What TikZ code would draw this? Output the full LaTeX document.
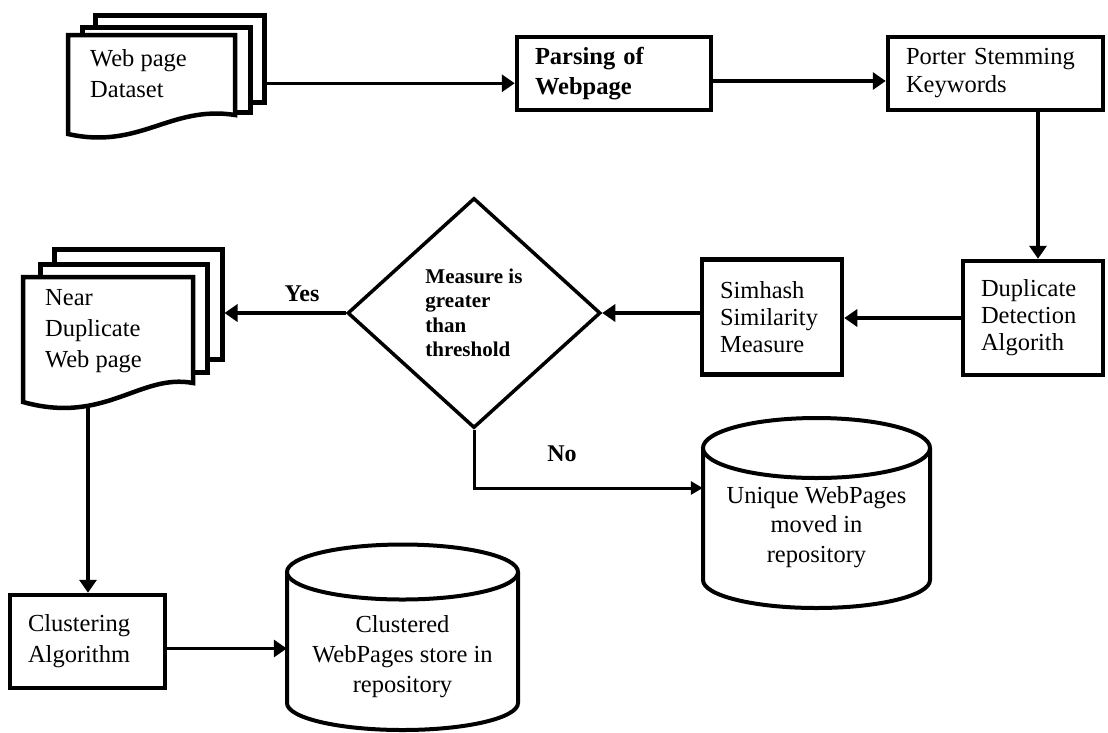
\documentclass[tikz,border=0pt]{standalone}
\usepackage{fontspec}
\setmainfont{Liberation Serif}
\usetikzlibrary{arrows.meta,shapes.geometric}
\begin{document}
\begin{tikzpicture}[x=1pt,y=-1pt,
  every node/.style={font=\fontsize{24.5}{29}\selectfont},
  box/.style={draw, line width=4.5pt, fill=white, align=left, inner xsep=18pt, inner ysep=0pt},
  docpage/.style={draw, line width=4.5pt, fill=white, line join=miter},
  cyl/.style={draw, line width=4pt, fill=white},
  conn/.style={line width=3.5pt, -{Triangle[length=13pt,width=17pt]}},
  lbl/.style={font=\bfseries\fontsize{24}{29}\selectfont, inner sep=0pt},
  plain/.style={inner sep=0pt, align=left}]
\useasboundingbox[fill=white] (0,0) rectangle (1108,732);

% Web page dataset (stack of documents)
\node[docpage, minimum width=169pt, minimum height=87pt, inner sep=0pt, anchor=north west] (dsBack) at (93,13) {};
\node[docpage, minimum width=168pt, minimum height=85pt, inner sep=0pt, anchor=north west] (dsMid) at (80,25) {};
\draw[docpage] (68,35) -- (235,35) -- (235,115) .. controls (170,105) and (140,150) .. (68,134) -- cycle;
\node[plain, anchor=north west, font=\fontsize{24.5}{31}\selectfont] (dsT) at (90,49) {Web page\\Dataset};

% Near duplicate web page (stack of documents)
\node[docpage, minimum width=168pt, minimum height=110pt, inner sep=0pt, anchor=north west] (ndBack) at (52,247) {};
\node[docpage, minimum width=167pt, minimum height=108pt, inner sep=0pt, anchor=north west] (ndMid) at (38,262) {};
\draw[docpage] (23,277) -- (193,277) -- (193,383) .. controls (140,373) and (105,425) .. (23,402) -- cycle;
\node[plain, anchor=north west, font=\fontsize{24.5}{31}\selectfont] (ndT) at (45,289) {Near\\Duplicate\\Web page};
\coordinate (ndOut) at (88,406);

% process boxes
\node[box, minimum width=194pt, minimum height=73pt, text width=158pt, font=\bfseries\fontsize{24.5}{30}\selectfont] (parse) at (614,73.5) {Parsing of\\Webpage};
\node[box, minimum width=215pt, minimum height=73pt, text width=179pt, font=\fontsize{24.5}{28}\selectfont] (porter) at (995.5,73.5) {Porter Stemming\\Keywords};
\node[box, minimum width=140pt, minimum height=114pt, text width=104pt, font=\fontsize{24.5}{27}\selectfont] (dupl) at (1033,318) {Duplicate\\Detection\\Algorith};
\node[box, minimum width=140pt, minimum height=115pt, text width=104pt, font=\fontsize{24.5}{27}\selectfont] (sim) at (772,317) {Simhash\\Similarity\\Measure};
\node[box, minimum width=155pt, minimum height=93pt, text width=119pt, font=\fontsize{24.5}{31}\selectfont] (clus) at (87.5,641.5) {Clustering\\Algorithm};

% decision
\node[diamond, draw, line width=3.5pt, fill=white, minimum width=253pt, minimum height=230pt, inner sep=0pt, align=left, font=\bfseries\fontsize{21}{24.5}\selectfont] (dec) at (474,313) {Measure is\\greater\\than\\threshold};

% cylinders
\draw[cyl] (703,448) -- (703,580) arc[start angle=180, end angle=0, x radius=113.5, y radius=28] -- (930,448);
\draw[cyl] (816.5,448) ellipse [x radius=113.5, y radius=30];
\node[plain, align=center, minimum width=227pt, font=\fontsize{24.5}{29.5}\selectfont] (udb) at (816.5,527) {Unique WebPages\\moved in\\repository};

\draw[cyl] (287,572) -- (287,703) arc[start angle=180, end angle=0, x radius=115.5, y radius=27] -- (518,572);
\draw[cyl] (402.5,572) ellipse [x radius=115.5, y radius=27.5];
\node[plain, align=center, minimum width=231pt, font=\fontsize{24.5}{30}\selectfont] (cdb) at (402.5,657) {Clustered\\WebPages store in\\repository};

% connectors
\draw[conn] ([yshift=-24.5pt]dsBack.east) -- ([yshift=-24.5pt]dsBack.east -| parse.west);
\draw[conn] ([yshift=-7.5pt]parse.east) -- ([yshift=-7.5pt]parse.east -| porter.west);
\draw[conn] ([xshift=5pt]porter.south -| dupl.north) -- ([xshift=5pt]dupl.north);
\draw[conn] (dupl.west) -- (dupl.west -| sim.east);
\draw[conn] (sim.west |- dec.east) -- (dec.east);
\draw[conn] (dec.west) -- (dec.west -| ndBack.east);
\draw[conn] (ndOut) -- (ndOut |- clus.north);
\draw[conn] ([yshift=-7pt]clus.east) -- ([yshift=-7pt]clus.east -| cdb.west);
\draw[line width=3pt, -{Triangle[length=12pt,width=13pt]}] (dec.south) |- ([yshift=39pt]udb.west);

% labels
\node[lbl] (yes) at (302,294) {Yes};
\node[lbl] (no) at (562,454) {No};
\end{tikzpicture}
\end{document}
